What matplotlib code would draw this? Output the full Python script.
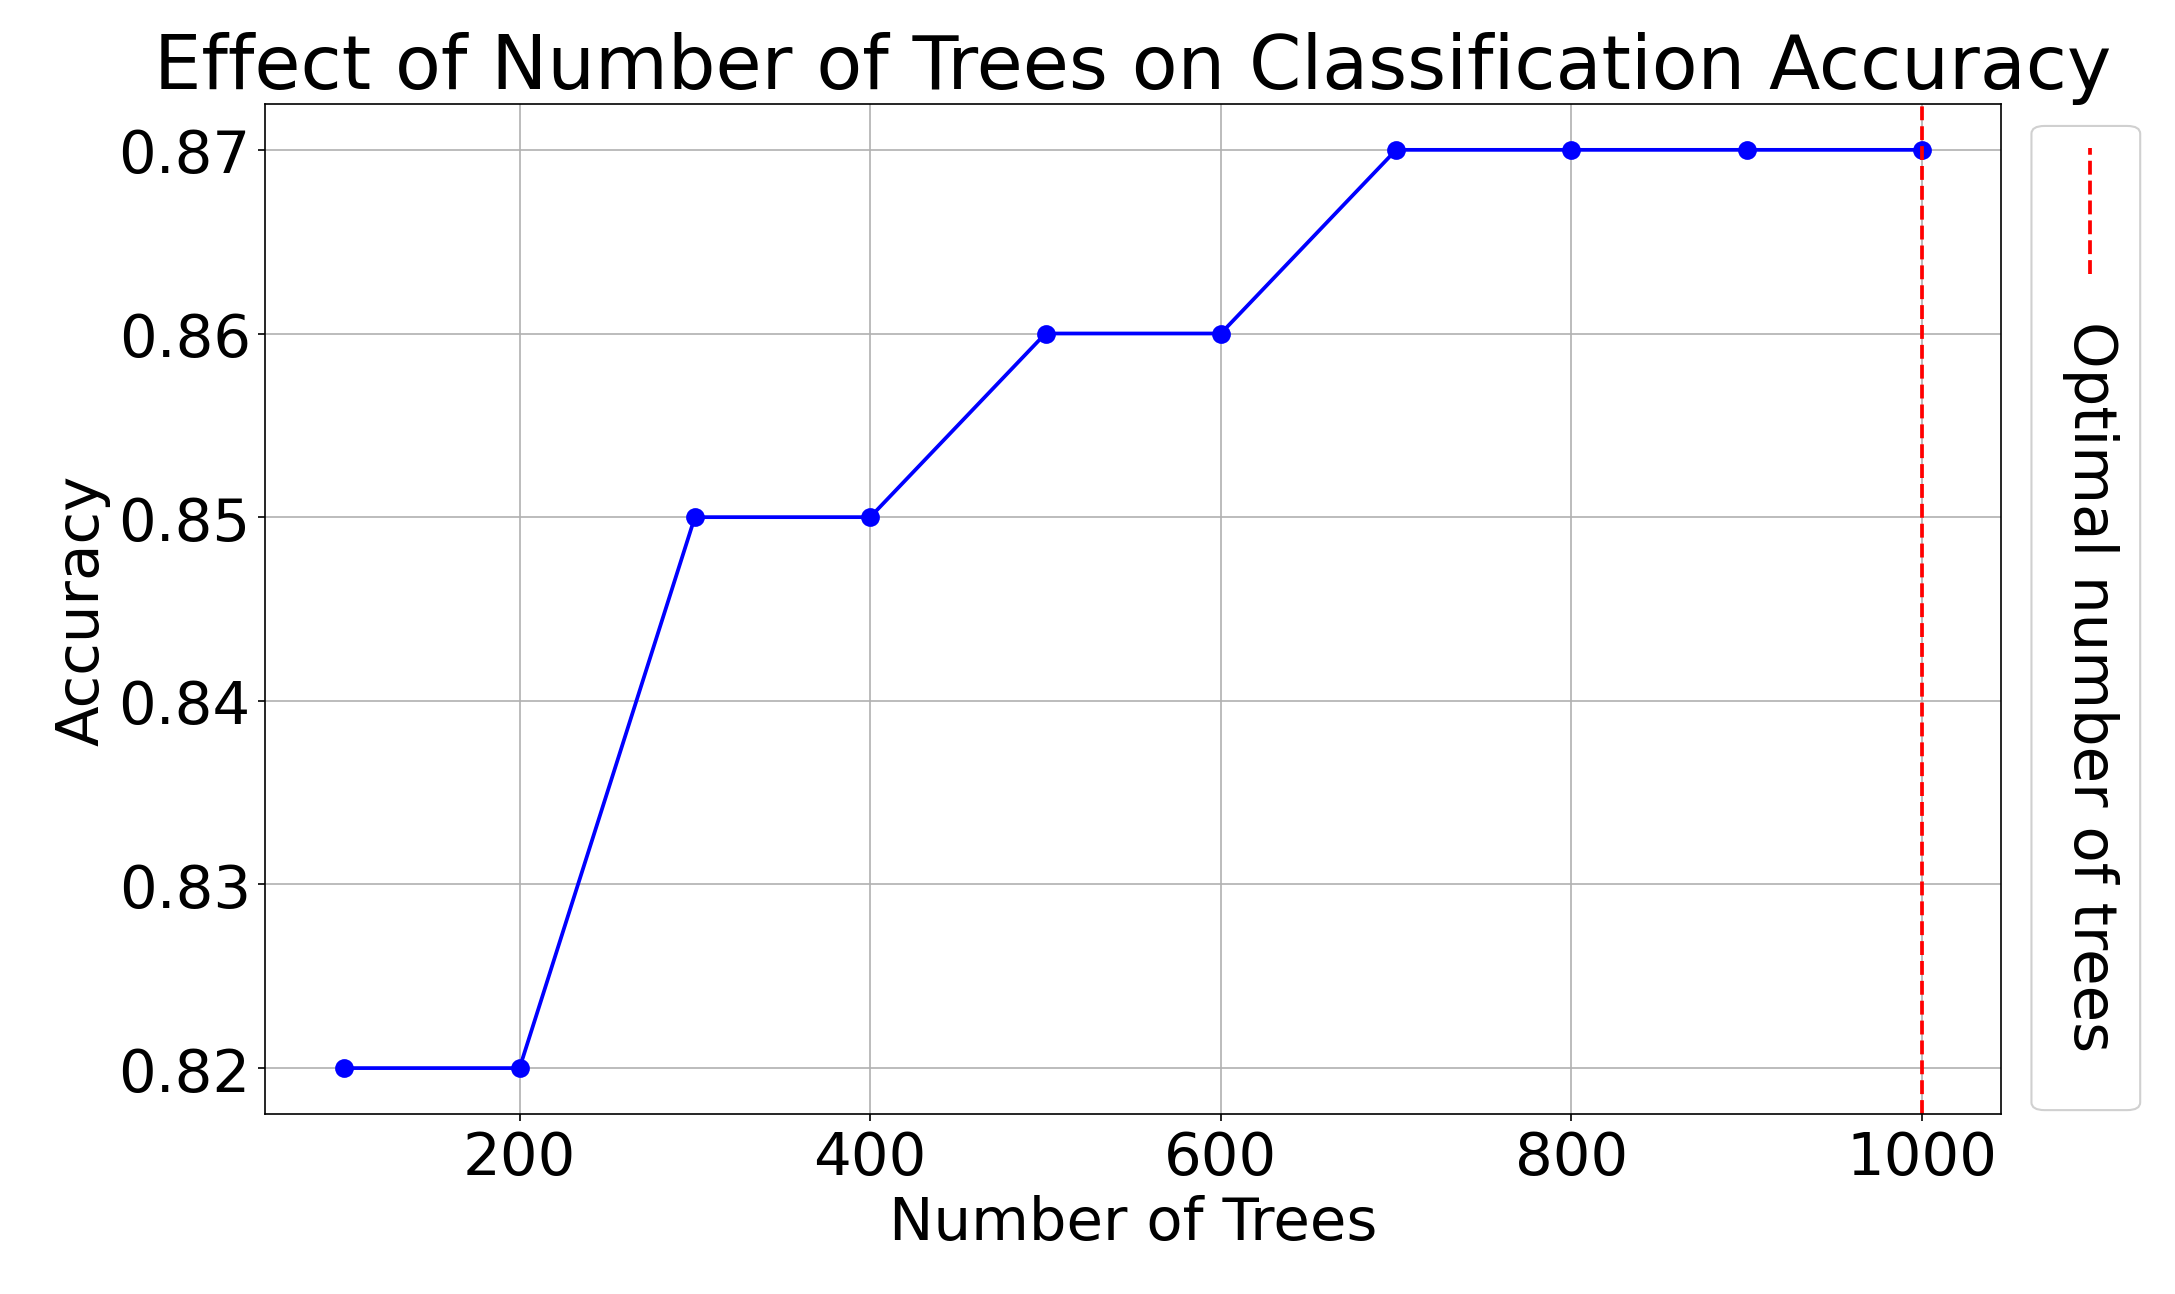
import matplotlib
matplotlib.use("Agg")
import matplotlib.pyplot as plt
from matplotlib.patches import FancyBboxPatch
from matplotlib.lines import Line2D

trees = [100, 200, 300, 400, 500, 600, 700, 800, 900, 1000]
accuracy = [0.82, 0.82, 0.85, 0.85, 0.86, 0.86, 0.87, 0.87, 0.87, 0.87]
optimal = 1000

fig = plt.figure(figsize=(14.5, 8.633), dpi=150)
ax = fig.add_axes([0.122, 0.139, 0.798, 0.78])
ax.plot(trees, accuracy, color="blue", marker="o", markersize=8, linewidth=1.8)
ax.axvline(optimal, color="red", linestyle="--", linewidth=1.8)
ax.grid(True)
ax.set_xticks([200, 400, 600, 800, 1000])
ax.set_yticks([0.82, 0.83, 0.84, 0.85, 0.86, 0.87])
ax.tick_params(labelsize=28.5)
ax.set_xlabel("Number of Trees", fontsize=28.5, labelpad=4)
ax.set_ylabel("Accuracy", fontsize=28.5)
ax.set_title("Effect of Number of Trees on Classification Accuracy", fontsize=36, pad=5)

# rotated legend
box = FancyBboxPatch((0.934, 0.142), 0.05, 0.76, boxstyle="round,pad=0,rounding_size=0.006",
                     transform=fig.transFigure, facecolor="white", edgecolor="#d0d0d0", linewidth=1)
fig.patches.append(box)
fig.lines.append(Line2D([0.961, 0.961], [0.788, 0.885], transform=fig.transFigure,
                        color="red", linestyle="--", linewidth=1.8))
fig.text(0.961, 0.752, "Optimal number of trees", rotation=270, ha="center", va="top", fontsize=28.5)

fig.savefig("out.png", dpi=150)
